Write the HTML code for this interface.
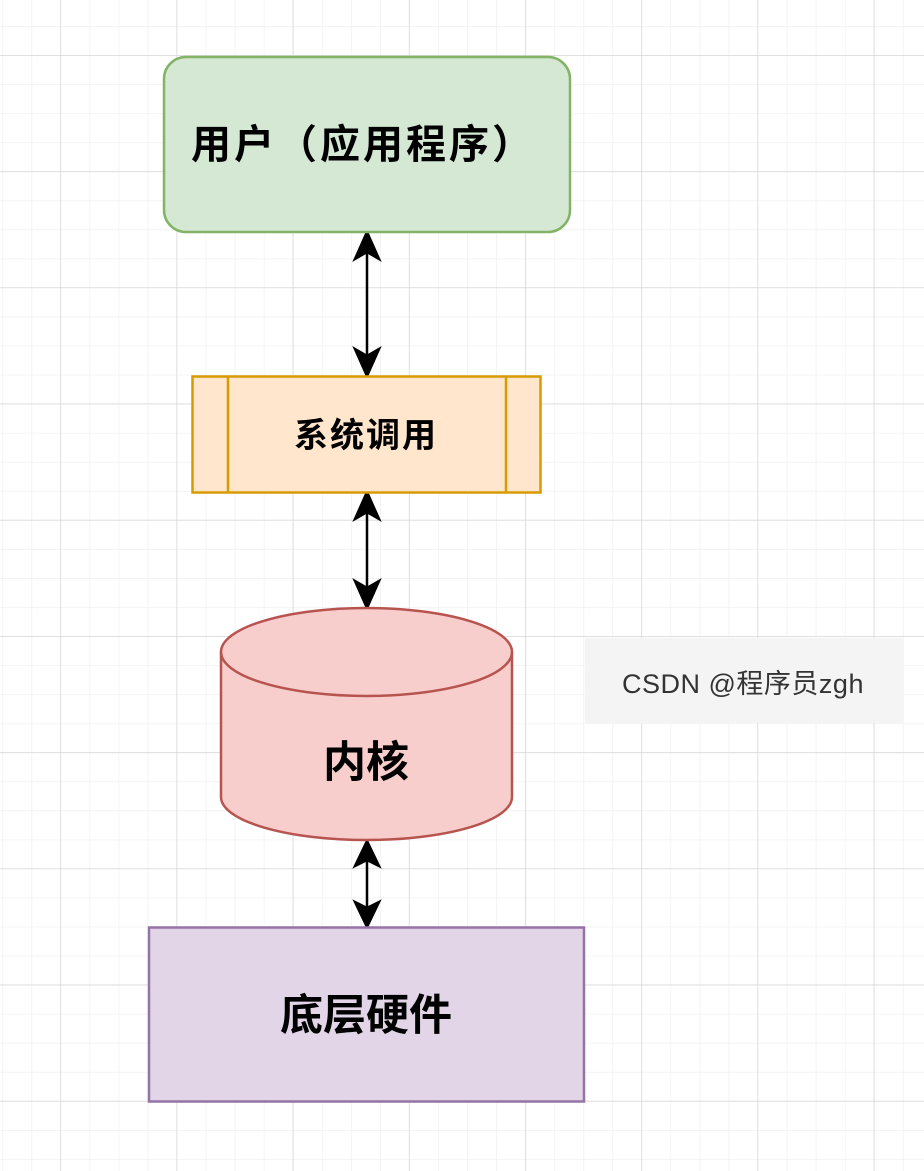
<!DOCTYPE html>
<html><head><meta charset="utf-8"><style>
html,body{margin:0;padding:0;background:#fff;}
svg{display:block;}
text{font-family:"Liberation Sans","Noto Sans CJK SC",sans-serif;}
</style></head><body>
<svg width="924" height="1171" viewBox="0 0 924 1171" xmlns="http://www.w3.org/2000/svg">
<defs>
<pattern id="minor" x="2.3" y="-3" width="29.05" height="29.05" patternUnits="userSpaceOnUse">
<path d="M0 0V29.05M0 0H29.05" stroke="#f0f0f0" stroke-width="1.5" fill="none"/>
</pattern>
<pattern id="major" x="60.3" y="55" width="116.2" height="116.2" patternUnits="userSpaceOnUse">
<path d="M0 0V116.2M0 0H116.2" stroke="#d2d2d2" stroke-width="1.2" fill="none"/>
</pattern>
</defs>
<rect width="924" height="1171" fill="url(#minor)"/>
<rect width="924" height="1171" fill="url(#major)"/>

<g stroke="#000" stroke-width="2.5" fill="#000">
<line x1="367" y1="246" x2="367" y2="362"/>
<path d="M367 232 L379 259 L367 252 L355 259Z"/>
<path d="M367 376 L379 349 L367 356 L355 349Z"/>
<line x1="367" y1="506" x2="367" y2="595"/>
<path d="M367 492 L379 519 L367 512 L355 519Z"/>
<path d="M367 608 L379 581 L367 588 L355 581Z"/>
<line x1="367" y1="854" x2="367" y2="913"/>
<path d="M367 841 L379 866 L367 860 L355 866Z"/>
<path d="M367 927 L379 902 L367 908 L355 902Z"/>
</g>

<rect x="164" y="57" width="406" height="175" rx="22" fill="#d5e8d4" stroke="#82b366" stroke-width="2.5"/>
<text x="191" y="158" font-size="40" font-weight="bold" fill="#000" letter-spacing="3">用户（应用程序）</text>

<rect x="192.5" y="376.5" width="348" height="116" fill="#ffe6cc" stroke="#d79b00" stroke-width="2.5"/>
<line x1="228" y1="377" x2="228" y2="492" stroke="#d79b00" stroke-width="2.5"/>
<line x1="506" y1="377" x2="506" y2="492" stroke="#d79b00" stroke-width="2.5"/>
<text x="366" y="447" font-size="34" font-weight="bold" fill="#000" text-anchor="middle" letter-spacing="2">系统调用</text>

<path d="M221 652 A145.5 44 0 0 1 512 652 L512 797 A145.5 43 0 0 1 221 797 Z" fill="#f8cecc" stroke="#b85450" stroke-width="2.5"/>
<path d="M221 652 A145.5 44 0 0 0 512 652" fill="none" stroke="#b85450" stroke-width="2.5"/>
<text x="366" y="777" font-size="43" font-weight="bold" fill="#000" text-anchor="middle">内核</text>

<rect x="149" y="927.5" width="435" height="174" fill="#e1d5e7" stroke="#9673a6" stroke-width="2.5"/>
<text x="366" y="1030" font-size="43" font-weight="bold" fill="#000" text-anchor="middle">底层硬件</text>

<rect x="585" y="638" width="318" height="85" fill="#f4f4f4"/>
<text x="743" y="693" font-size="27" fill="#333" text-anchor="middle" letter-spacing="0.5">CSDN @程序员zgh</text>
</svg>
</body></html>
